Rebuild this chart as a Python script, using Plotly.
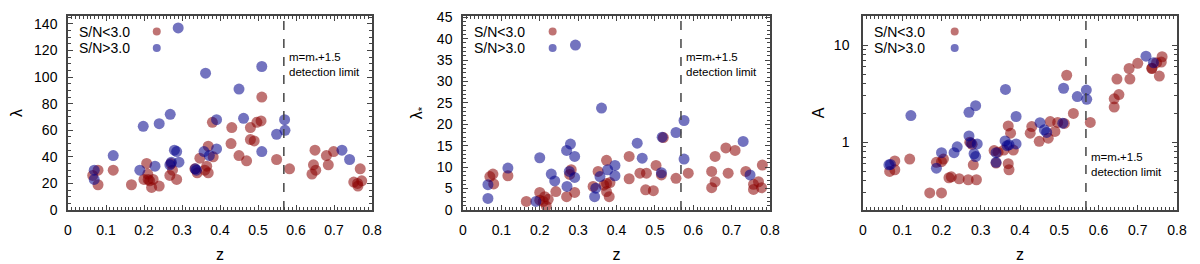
import plotly.graph_objects as go

# ---------------- data ----------------
# Panel 1: lambda vs z
lam_low_z = [0.51, 0.431, 0.48, 0.38, 0.48, 0.497, 0.508, 0.429, 0.49, 0.45, 0.47, 0.549, 0.583, 0.642,
             0.646, 0.65, 0.68, 0.685, 0.699, 0.769, 0.752, 0.762, 0.773, 0.763, 0.652, 0.079, 0.079,
             0.119, 0.167, 0.207, 0.2, 0.211, 0.224, 0.22, 0.24, 0.268, 0.286, 0.271, 0.334, 0.347,
             0.365, 0.369, 0.369, 0.382, 0.065, 0.21, 0.215, 0.36, 0.34, 0.275]
lam_low = [85, 62, 62, 66, 53, 66, 67, 50, 52, 41, 37, 38, 31, 27,
           34, 45, 41, 34, 44, 31, 21, 20, 22, 18, 30, 30, 19,
           30, 19, 35, 23, 23, 23, 17, 18, 26, 23, 35, 31, 39,
           33, 28, 48, 40, 26, 27, 22, 30, 28, 30]
lam_high_z = [0.29, 0.362, 0.51, 0.45, 0.269, 0.24, 0.198, 0.462, 0.391, 0.57, 0.571, 0.549, 0.51,
              0.119, 0.069, 0.069, 0.189, 0.229, 0.268, 0.286, 0.292, 0.338, 0.335, 0.358, 0.391,
              0.372, 0.721, 0.741, 0.272, 0.28]
lam_high = [137, 103, 108, 91, 72, 65, 63, 69, 68, 68, 60, 57, 44,
            41, 30, 23, 30, 33, 34, 44, 36, 30, 31, 44, 46,
            41, 45, 38, 36, 45]

# Panel 2: lambda_* vs z
lst_low_z = [0.522, 0.685, 0.709, 0.657, 0.433, 0.374, 0.78, 0.503, 0.648, 0.737, 0.691, 0.587, 0.478,
             0.461, 0.517, 0.433, 0.555, 0.657, 0.648, 0.757, 0.77, 0.778, 0.757, 0.352, 0.339, 0.374,
             0.367, 0.383, 0.374, 0.381, 0.476, 0.496, 0.278, 0.282, 0.291, 0.27, 0.242, 0.2, 0.213,
             0.222, 0.209, 0.2, 0.165, 0.217, 0.07, 0.078, 0.08, 0.117]
lst_low = [16.9, 14.5, 13.9, 12.5, 12.5, 11.6, 10.5, 10.4, 9.0, 9.0, 8.6, 8.6, 8.6,
           8.6, 8.2, 7.3, 7.4, 6.6, 5.2, 6.0, 6.6, 5.2, 4.8, 9.0, 5.5, 6.2,
           5.8, 6.4, 4.3, 3.1, 4.7, 4.5, 8.3, 9.4, 4.1, 3.1, 4.3, 4.1, 3.1,
           2.5, 2.0, 2.3, 2.0, 0.9, 7.8, 8.4, 6.1, 8.0]
lst_high_z = [0.293, 0.361, 0.576, 0.555, 0.519, 0.454, 0.73, 0.28, 0.27, 0.291, 0.2, 0.467, 0.576,
              0.117, 0.396, 0.377, 0.396, 0.277, 0.291, 0.23, 0.239, 0.271, 0.357, 0.346, 0.343,
              0.517, 0.748, 0.065, 0.065, 0.19]
lst_high = [38.5, 23.8, 20.9, 18.1, 17.0, 15.6, 16.0, 15.4, 13.9, 12.5, 12.2, 12.1, 11.9,
            9.8, 10.4, 9.4, 8.0, 9.0, 7.6, 8.4, 6.8, 5.5, 7.8, 5.1, 3.1,
            8.7, 8.2, 5.9, 2.7, 2.0]

# Panel 3: A vs z
A_low_z = [0.762, 0.76, 0.748, 0.736, 0.7, 0.678, 0.68, 0.647, 0.652, 0.64, 0.64, 0.755, 0.736,
           0.519, 0.536, 0.579, 0.496, 0.513, 0.477, 0.489, 0.43, 0.426, 0.472, 0.449, 0.37,
           0.376, 0.383, 0.359, 0.334, 0.344, 0.339, 0.37, 0.372, 0.281, 0.278, 0.272, 0.245,
           0.219, 0.225, 0.268, 0.289, 0.2, 0.187, 0.205, 0.17, 0.2, 0.119, 0.081, 0.081, 0.068]
A_low = [7.6, 6.7, 6.6, 5.75, 6.5, 5.75, 4.47, 4.47, 3.1, 2.8, 2.3, 4.8, 5.8,
         4.9, 1.98, 1.6, 1.6, 1.56, 1.63, 1.29, 1.45, 1.24, 1.1, 1.02, 1.47,
         1.24, 0.83, 0.83, 0.82, 0.79, 0.61, 0.6, 0.52, 0.585, 0.95, 1.0, 0.42,
         0.43, 0.44, 0.41, 0.41, 0.63, 0.62, 0.67, 0.30, 0.30, 0.67, 0.64, 0.52, 0.5]
A_high_z = [0.721, 0.74, 0.511, 0.569, 0.546, 0.57, 0.363, 0.27, 0.287, 0.122, 0.39, 0.27, 0.362,
            0.39, 0.372, 0.367, 0.291, 0.275, 0.24, 0.232, 0.2, 0.187, 0.283, 0.287, 0.339,
            0.339, 0.451, 0.462, 0.468, 0.509, 0.066, 0.07]
A_high = [7.7, 6.6, 3.6, 3.45, 2.95, 2.77, 3.5, 2.03, 2.38, 1.88, 1.84, 1.16, 1.03,
          0.96, 0.94, 0.92, 0.96, 0.98, 0.895, 0.78, 0.78, 0.54, 0.76, 0.71, 0.78,
          0.62, 1.59, 1.34, 1.26, 1.57, 0.585, 0.59]

legend_labels = ["S/N<3.0", "S/N>3.0"]
x_ticks = [0, 0.1, 0.2, 0.3, 0.4, 0.5, 0.6, 0.7, 0.8]
z_limit = 0.568

# ---------------- style ----------------
RED = "rgba(139,0,0,0.55)"
BLUE = "rgba(0,0,139,0.55)"
MSIZE = 11
FONT = "Liberation Sans, Arial, sans-serif"
AXC = "#444444"

# the page body has an 8px margin, so the figure is placed at (8, 8)
W, H = 1192, 256
OFF = 8

fig = go.Figure()

panels = [
    (lam_low_z, lam_low, lam_high_z, lam_high, "x", "y"),
    (lst_low_z, lst_low, lst_high_z, lst_high, "x2", "y2"),
    (A_low_z, A_low, A_high_z, A_high, "x3", "y3"),
]
for lz, lv, hz, hv, xa, ya in panels:
    fig.add_trace(go.Scatter(x=lz, y=lv, mode="markers", xaxis=xa, yaxis=ya, showlegend=False,
                             marker=dict(size=MSIZE, color=RED, line=dict(width=0))))
    fig.add_trace(go.Scatter(x=hz, y=hv, mode="markers", xaxis=xa, yaxis=ya, showlegend=False,
                             marker=dict(size=MSIZE, color=BLUE, line=dict(width=0))))


def xd(a, b):
    return [(a - OFF) / W, (b - OFF) / W]


ydom = [(H - (210 - OFF)) / H, (H - (16 - OFF)) / H]
xdoms = [xd(68, 372), xd(463, 770), xd(863, 1177)]

common_x = dict(range=[0, 0.8], tickvals=x_ticks, ticktext=[str(t) if t else "0" for t in x_ticks],
                ticks="inside", ticklen=5, tickwidth=1, tickcolor=AXC, mirror="allticks",
                showline=True, linecolor=AXC, linewidth=1.5, showgrid=False, zeroline=False,
                automargin=False, ticklabelstandoff=6,
                tickfont=dict(family=FONT, size=14, color="black"),
                minor=dict(ticks="inside", ticklen=3, dtick=0.01, tickcolor=AXC, showgrid=False),
                title=dict(text="z", font=dict(family=FONT, size=16, color="black"), standoff=12))
common_y = dict(ticks="inside", ticklen=5, tickwidth=1, tickcolor=AXC, mirror="allticks",
                showline=True, linecolor=AXC, linewidth=1.5, showgrid=False, zeroline=False,
                automargin=False, ticklabelstandoff=6,
                tickfont=dict(family=FONT, size=14, color="black"), domain=ydom)

layout = dict(width=W, height=H, margin=dict(l=0, r=0, t=0, b=0, autoexpand=False),
              plot_bgcolor="white", paper_bgcolor="white", showlegend=False)
for i, suf in enumerate(["", "2", "3"]):
    layout["xaxis" + suf] = dict(common_x, domain=xdoms[i], anchor="y" + suf)
layout["yaxis"] = dict(common_y, range=[0, 146], dtick=20, anchor="x",
                       minor=dict(ticks="inside", ticklen=3, dtick=5, tickcolor=AXC, showgrid=False),
                       title=dict(text="λ", font=dict(family=FONT, size=16, color="black"), standoff=14))
layout["yaxis2"] = dict(common_y, range=[0, 45.3], dtick=5, anchor="x2",
                        minor=dict(ticks="inside", ticklen=3, dtick=1, tickcolor=AXC, showgrid=False),
                        title=dict(text="λ<sub>*</sub>", font=dict(family=FONT, size=16, color="black"), standoff=10))
layout["yaxis3"] = dict(common_y, type="log", range=[-0.699, 1.301], tickvals=[1, 10], ticktext=["1", "10"],
                        anchor="x3", ticklabelstandoff=9,
                        minor=dict(ticks="inside", ticklen=3, dtick="D1", tickcolor=AXC, showgrid=False),
                        title=dict(text="A", font=dict(family=FONT, size=16, color="black"), standoff=5))
fig.update_layout(**layout)

shapes = []
annotations = []
text_y = [0.75, 0.75, 0.237]
for i, suf in enumerate(["", "2", "3"]):
    xr = "x" + suf
    yrd = "y" + suf + " domain"
    shapes.append(dict(type="line", xref=xr, yref=yrd, x0=z_limit, x1=z_limit, y0=0, y1=1,
                       line=dict(color=AXC, width=1.5, dash="dash")))
    # legend markers
    for j, col in enumerate([RED, BLUE]):
        yy = 0.92 - j * 0.085
        shapes.append(dict(type="circle", xref="x" + suf + " domain", yref=yrd,
                           xsizemode="pixel", ysizemode="pixel", xanchor=0.292, yanchor=yy,
                           x0=-4, x1=4, y0=-4, y1=4, fillcolor=col, line=dict(width=0)))
        annotations.append(dict(xref="x" + suf + " domain", yref=yrd, x=0.03, y=yy, text=legend_labels[j],
                                showarrow=False, xanchor="left", yanchor="middle",
                                font=dict(family=FONT, size=14, color="black")))
    annotations.append(dict(xref=xr, yref=yrd, x=z_limit, xshift=3, y=text_y[i],
                            text="m=m<sub>*</sub>+1.5<br>detection limit", showarrow=False,
                            xanchor="left", yanchor="middle", align="left",
                            font=dict(family=FONT, size=11.5, color="black")))
fig.update_layout(shapes=shapes, annotations=annotations)

fig.write_html("out.html")
